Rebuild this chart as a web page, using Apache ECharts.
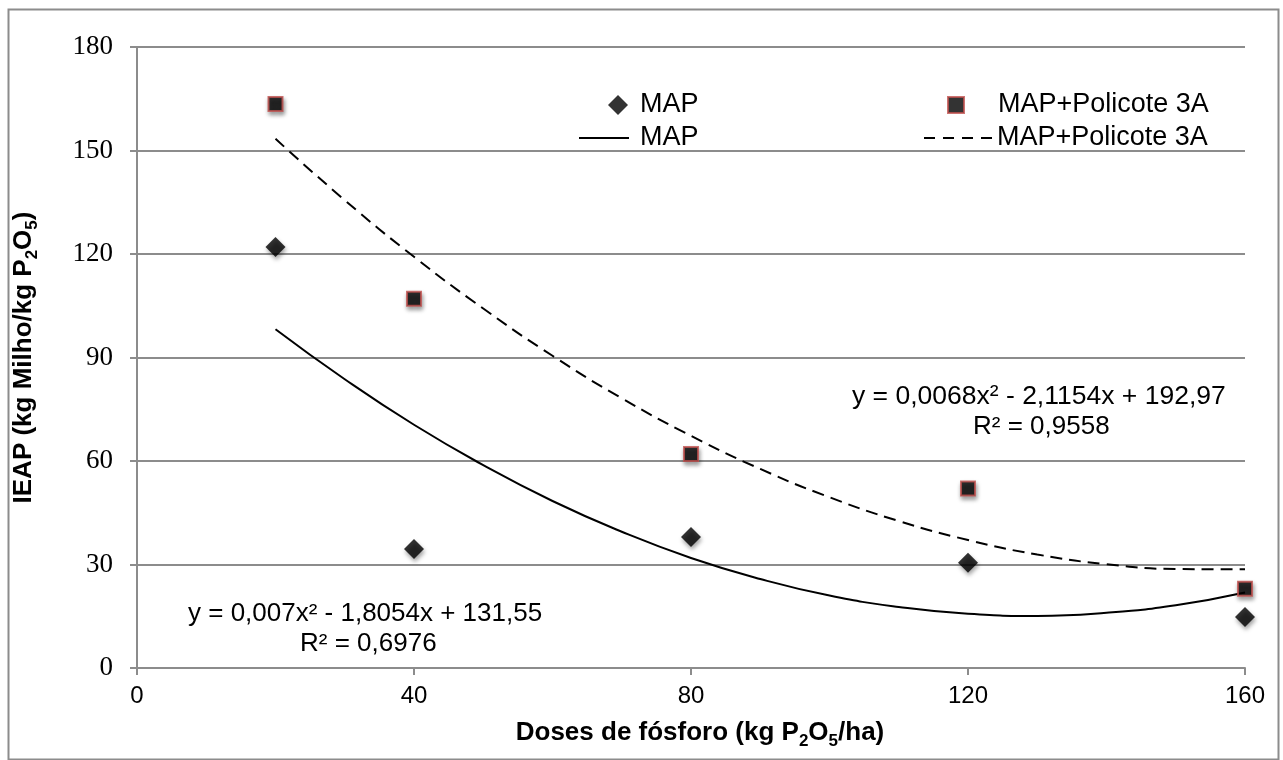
<!DOCTYPE html>
<html>
<head>
<meta charset="utf-8">
<script src="https://cdn.jsdelivr.net/npm/echarts@6/dist/echarts.min.js"></script>
<style>
html,body{margin:0;padding:0;background:#fff;}
#c{width:1283px;height:760px;}
</style>
</head>
<body>
<div id="c"></div>
<script>
// ---- Data ----
const doses = [20, 40, 80, 120, 160];
const mapValues = [122, 34.5, 38, 30.5, 14.8];
const policoteValues = [163.5, 107, 62, 52, 23];

// Trend-curve samples
const trendX = [20, 30, 40, 50, 60, 70, 80, 90, 100, 110, 120, 130, 140, 150, 160];
const mapTrend = [98.2, 83.7, 70.5, 58.8, 48.4, 39.5, 31.9, 25.8, 21.0, 17.7, 15.7, 15.1, 16.0, 18.2, 21.9];
const policoteTrend = [153.4, 135.6, 119.2, 104.2, 90.5, 78.2, 67.3, 57.7, 49.5, 42.6, 37.1, 32.9, 30.1, 28.7, 28.6];

const xTicks = [0, 40, 80, 120, 160];
const yTicks = [0, 30, 60, 90, 120, 150, 180];

const eqPolicote = ['y = 0,0068x² - 2,1154x + 192,97', 'R² = 0,9558'];
const eqMap = ['y = 0,007x² - 1,8054x + 131,55', 'R² = 0,6976'];

const pair = (xs, ys) => xs.map((x, i) => [x, ys[i]]);

const chart = echarts.init(document.getElementById('c'), null, {renderer: 'canvas'});
const gridColor = '#8c8c8c';
const sans = 'Liberation Sans, Arial, sans-serif';
const serif = 'Liberation Serif, DejaVu Serif, serif';
const shadow = {shadowBlur: 4, shadowColor: 'rgba(0,0,0,0.45)', shadowOffsetX: 1, shadowOffsetY: 3};

const legendText = (pad) => ({fontFamily: sans, fontSize: 27, lineHeight: 30, color: '#000', padding: [0, 0, 0, pad]});
const legendBase = {orient: 'horizontal', selectedMode: false};

const titleRich = {
  b: {fontFamily: sans, fontSize: 26, fontWeight: 'bold', color: '#000', lineHeight: 34},
  s: {fontFamily: sans, fontSize: 17, fontWeight: 'bold', color: '#000', verticalAlign: 'bottom', lineHeight: 34}
};

chart.setOption({
  animation: false,
  backgroundColor: '#fff',
  grid: {left: 137, right: 38, top: 47, bottom: 92, containLabel: false},
  xAxis: {
    type: 'value', min: 0, max: 160, interval: 40,
    name: '{b|Doses de fósforo (kg P}{s|2}{b|O}{s|5}{b|/ha)}',
    nameLocation: 'middle', nameGap: 48,
    nameTextStyle: {rich: titleRich, padding: [0, 0, 0, 18]},
    axisLine: {lineStyle: {color: gridColor, width: 2}},
    axisTick: {show: true, length: 7, inside: false, lineStyle: {color: gridColor, width: 2}},
    axisLabel: {fontFamily: sans, fontSize: 24, color: '#000', margin: 16,
      formatter: v => xTicks.includes(v) ? String(v) : ''},
    splitLine: {show: false}
  },
  yAxis: {
    type: 'value', min: 0, max: 180, interval: 30,
    name: '{b|IEAP (kg Milho/kg P}{s|2}{b|O}{s|5}{b|)}',
    nameLocation: 'middle', nameGap: 96,
    nameTextStyle: {rich: titleRich},
    axisLine: {show: true, lineStyle: {color: gridColor, width: 2}},
    axisTick: {show: true, length: 7, inside: false, lineStyle: {color: gridColor, width: 2}},
    axisLabel: {fontFamily: serif, fontSize: 27, color: '#000', margin: 24,
      formatter: v => yTicks.includes(v) ? String(v) : ''},
    splitLine: {show: true, lineStyle: {color: gridColor, width: 2}}
  },
  legend: [
    Object.assign({}, legendBase, {data: ['MAP'], left: 603, top: 85, itemWidth: 20, itemHeight: 20,
      textStyle: legendText(7)}),
    Object.assign({}, legendBase, {data: ['MAP+Policote 3A'], left: 942, top: 85, itemWidth: 16, itemHeight: 16,
      textStyle: legendText(29)}),
    Object.assign({}, legendBase, {
      data: [{name: 'MAP_trend', icon: 'path://M0,0h50v2h-50z'}],
      left: 574, top: 118, itemWidth: 50, itemHeight: 2,
      itemStyle: {color: '#000'},
      formatter: () => 'MAP',
      textStyle: legendText(6)}),
    Object.assign({}, legendBase, {
      data: [{name: 'Policote_trend', icon: 'path://M0,0h11v2h-11zM19,0h11v2h-11zM38,0h11v2h-11zM57,0h11v2h-11z'}],
      left: 919, top: 118, itemWidth: 68, itemHeight: 2,
      itemStyle: {color: '#000'},
      formatter: () => 'MAP+Policote 3A',
      textStyle: legendText(0)})
  ],
  graphic: [
    {type: 'rect', left: 6, top: 7, shape: {width: 1270, height: 750},
      style: {fill: 'none', stroke: '#8c8c8c', lineWidth: 2}, silent: true, z: -1},
    {type: 'text', left: 852, top: 383, style: {text: eqPolicote[0], font: '26.5px ' + sans, fill: '#000'}},
    {type: 'text', left: 973, top: 414, style: {text: eqPolicote[1], font: '26px ' + sans, fill: '#000'}},
    {type: 'text', left: 188, top: 601, style: {text: eqMap[0], font: '26px ' + sans, fill: '#000'}},
    {type: 'text', left: 300, top: 631, style: {text: eqMap[1], font: '26px ' + sans, fill: '#000'}}
  ],
  series: [
    {
      name: 'MAP_trend', type: 'line', data: pair(trendX, mapTrend), smooth: true,
      symbol: 'none', lineStyle: {color: '#000', width: 2}, itemStyle: {color: '#000'}, z: 2
    },
    {
      name: 'Policote_trend', type: 'line', data: pair(trendX, policoteTrend), smooth: true,
      symbol: 'none', lineStyle: {color: '#000', width: 2, type: [12, 7]}, itemStyle: {color: '#000'}, z: 2
    },
    {
      name: 'MAP', type: 'scatter', data: pair(doses, mapValues), symbol: 'diamond', symbolSize: 20,
      itemStyle: Object.assign({color: '#000'}, shadow), z: 3
    },
    {
      name: 'MAP+Policote 3A', type: 'scatter', data: pair(doses, policoteValues), symbol: 'rect', symbolSize: 14,
      itemStyle: Object.assign({color: '#000', borderColor: '#c0504d', borderWidth: 2}, shadow), z: 3
    }
  ]
});
</script>
</body>
</html>
